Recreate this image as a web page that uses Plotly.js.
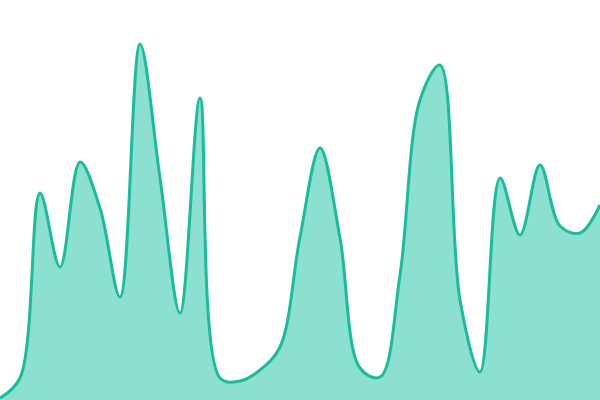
<!DOCTYPE html>
<html>
<head>
<meta charset="utf-8">
<script src="https://cdn.plot.ly/plotly-3.0.1.min.js"></script>
<style>html,body{margin:0;padding:0;background:#fff;}#chart{width:600px;height:400px;}</style>
</head>
<body>
<div id="chart"></div>
<script>
const xValues = [0,1,2,3,4,5,6,7,8,9,10,11,12,13,14,15,16,17,18,19,20,21,22,23,24,25,26,27,28,29,30];
const seriesValues = [2,22,207,133,238,192,103,356,222,87,302,22,19,30,53,163,252,162,32,23,125,300,335,100,28,222,165,235,174,167,195];

Plotly.newPlot('chart', [{
  x: xValues,
  y: seriesValues,
  type: 'scatter',
  mode: 'lines',
  fill: 'tozeroy',
  fillcolor: '#8be0cf',
  line: {color: '#1abc9c', width: 3, shape: 'spline', smoothing: 1},
  hoverinfo: 'none'
}], {
  width: 600, height: 400,
  margin: {l: 0, r: 0, t: 0, b: 0},
  paper_bgcolor: '#fff', plot_bgcolor: '#fff',
  showlegend: false,
  xaxis: {range: [0, 30], visible: false, fixedrange: true},
  yaxis: {range: [0, 400], visible: false, fixedrange: true}
}, {displayModeBar: false, staticPlot: true});
</script>
</body>
</html>
